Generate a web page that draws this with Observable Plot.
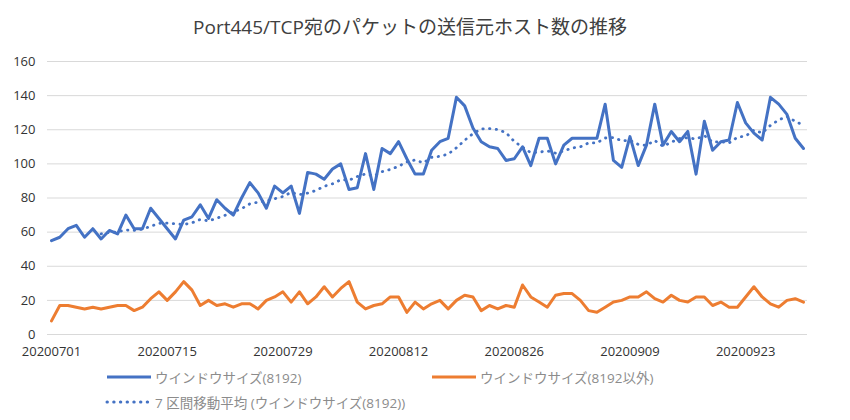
<!DOCTYPE html>
<html>
<head>
<meta charset="utf-8">
<script src="https://cdn.jsdelivr.net/npm/d3@7"></script>
<script src="https://cdn.jsdelivr.net/npm/@observablehq/plot@0.6"></script>
<style>
  body { margin: 0; background: #fff; font-family: "Open Sans", "Noto Sans CJK JP", sans-serif; }
  #wrap { position: relative; width: 850px; height: 420px; overflow: hidden; }
  #title { position: absolute; top: 12px; left: 0; width: 820px; text-align: center; font-size: 19px; color: #404040; font-family: "Open Sans", "Noto Sans CJK JP", sans-serif; }
  #chart { position: absolute; top: 50px; left: 0; }
  .leg { position: absolute; font-size: 13.5px; color: #8c8c8c; white-space: nowrap; font-family: "Open Sans", "Noto Sans CJK JP", sans-serif; }
  .leg svg { position: absolute; left: 0; top: 0; }
  .leg span { position: absolute; white-space: nowrap; }
</style>
</head>
<body>
<div id="wrap">
  <div id="title">Port445/TCP宛のパケットの送信元ホスト数の推移</div>
  <div id="chart"></div>
  <div id="legend"></div>
</div>
<script>
// Dates (categories): 2020-07-01 .. 2020-09-30
const startDate = "20200701";
const endDate = "20200930";
const tickLabels = ["20200701","20200715","20200729","20200812","20200826","20200909","20200923"];

// ウインドウサイズ(8192)
const win8192 = [55,57,62,64,57,62,56,61,59,70,62,62,74,68,62,56,67,69,76,68,
  79,74,70,80,89,83,74,87,83,87,71,95,94,91,97,100,85,86,106,85,
  109,106,113,103,94,94,108,113,115,139,134,121,113,110,109,102,103,110,99,115,
  115,100,111,115,115,115,115,135,102,98,116,99,111,135,111,119,113,119,94,125,
  108,113,114,136,124,118,114,139,135,129,115,109];

// ウインドウサイズ(8192以外)
const winOther = [8,17,17,16,15,16,15,16,17,17,14,16,21,25,20,25,31,26,17,20,
  17,18,16,18,18,15,20,22,25,19,25,18,22,28,22,27,31,19,15,17,
  18,22,22,13,19,15,18,20,15,20,23,22,14,17,15,17,16,29,22,19,
  16,23,24,24,20,14,13,16,19,20,22,22,25,21,19,23,20,19,22,22,
  17,19,16,16,22,28,22,18,16,20,21,19];

const seriesNames = ["ウインドウサイズ(8192)", "ウインドウサイズ(8192以外)", "7 区間移動平均 (ウインドウサイズ(8192))"];
const colors = ["#4472C4", "#ED7D31", "#4472C4"];

const parse = d3.utcParse("%Y%m%d");
const fmt = d3.utcFormat("%Y%m%d");
const dates = d3.utcDay.range(parse(startDate), d3.utcDay.offset(parse(endDate), 1));

// 7-period trailing moving average (Excel style: starts at 7th point)
const ma7 = win8192.map((v, i) => i < 6 ? NaN : d3.mean(win8192.slice(i - 6, i + 1)));

const data = dates.map((d, i) => ({date: d, a: win8192[i], b: winOther[i], m: ma7[i]}));

const chart = Plot.plot({
  width: 850,
  height: 320,
  marginTop: 11,
  marginBottom: 36,
  marginLeft: 47,
  marginRight: 43,
  style: {fontFamily: "'Open Sans', 'Noto Sans CJK JP', sans-serif", fontSize: "13px", color: "#333333", background: "transparent"},
  x: {type: "utc", domain: [dates[0], dates[dates.length - 1]], insetLeft: 4, insetRight: 4},
  y: {domain: [0, 160]},
  marks: [
    Plot.ruleY(d3.range(0, 161, 20), {stroke: "#d9d9d9", strokeWidth: 1}),
    Plot.axisY({ticks: d3.range(0, 161, 20), tickSize: 0, tickPadding: 12, label: null, fontSize: 13}),
    Plot.axisX({ticks: tickLabels.map(parse), tickFormat: fmt, tickSize: 0, tickPadding: 12, label: null, fontSize: 13}),
    Plot.lineY(data, {x: "date", y: "m", stroke: colors[2], strokeWidth: 2.8, strokeDasharray: "0.4 6.3", strokeLinecap: "round"}),
    Plot.lineY(data, {x: "date", y: "b", stroke: colors[1], strokeWidth: 3, strokeLinejoin: "round"}),
    Plot.lineY(data, {x: "date", y: "a", stroke: colors[0], strokeWidth: 3, strokeLinejoin: "round"})
  ]
});
document.getElementById("chart").appendChild(chart);

// Legend
const legendItems = [
  {name: seriesNames[0], color: colors[0], dash: null, x: 105, y: 368},
  {name: seriesNames[1], color: colors[1], dash: null, x: 430, y: 368},
  {name: seriesNames[2], color: colors[2], dash: "0.4 6.3", x: 105, y: 393}
];
const legend = document.getElementById("legend");
for (const it of legendItems) {
  const div = document.createElement("div");
  div.className = "leg";
  div.style.left = it.x + "px";
  div.style.top = it.y + "px";
  div.innerHTML = `<svg width="48" height="18"><line x1="2" x2="46" y1="9" y2="9" stroke="${it.color}" stroke-width="3" ${it.dash ? `stroke-dasharray="${it.dash}" stroke-linecap="round"` : ""}/></svg><span style="left:50px;top:-1px">${it.name}</span>`;
  legend.appendChild(div);
}
</script>
</body>
</html>
